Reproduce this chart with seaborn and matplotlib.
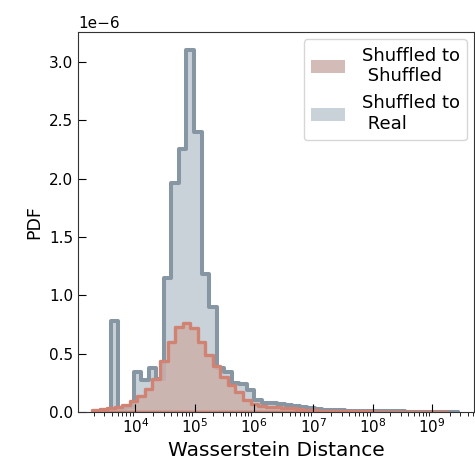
import numpy as np
import pandas as pd
import matplotlib
matplotlib.use("Agg")
import matplotlib.pyplot as plt
import seaborn as sns
from matplotlib.patches import Patch

# ---- data (PDF values in units of 1e-6) ----
# log10 start of the first bin edge for each series, common log10 bin width
real_log_start = 3.332
shuf_log_start = 3.268
log_bin_width = 0.1273

real_pdf_e6 = [0.01, 0.005, 0.78, 0.03, 0.04, 0.34, 0.27, 0.38, 0.28, 1.15,
               1.96, 2.25, 3.10, 2.40, 1.18, 0.90, 0.38, 0.34, 0.25, 0.24,
               0.19, 0.10, 0.08, 0.075, 0.065, 0.06, 0.05, 0.045, 0.035, 0.028,
               0.02, 0.016, 0.013, 0.011, 0.009, 0.008, 0.007, 0.006, 0.006, 0.005,
               0.005, 0.004, 0.004, 0.003, 0.003, 0.003, 0.002, 0.002]

shuf_pdf_e6 = [0.02, 0.025, 0.03, 0.04, 0.06, 0.09, 0.14, 0.20, 0.28, 0.44,
               0.60, 0.73, 0.76, 0.72, 0.60, 0.49, 0.39, 0.30, 0.23, 0.17,
               0.10, 0.07, 0.055, 0.045, 0.04, 0.035, 0.03, 0.025, 0.02, 0.016,
               0.012, 0.01, 0.008, 0.007, 0.006, 0.005, 0.005, 0.004, 0.004, 0.003,
               0.003, 0.003, 0.002, 0.002, 0.002, 0.002, 0.002]

labels = ["Shuffled to\n Shuffled", "Shuffled to\n Real"]
x_label = "Wasserstein Distance"
y_label = "PDF"


def to_frame(log_start, heights):
    n = len(heights)
    edges = 10 ** (log_start + log_bin_width * np.arange(n + 1))
    centers = np.sqrt(edges[:-1] * edges[1:])
    df = pd.DataFrame({"dist": centers, "pdf": np.asarray(heights) * 1e-6})
    return df, [float(e) for e in edges]


real_df, real_edges = to_frame(real_log_start, real_pdf_e6)
shuf_df, shuf_edges = to_frame(shuf_log_start, shuf_pdf_e6)

# ---- styling ----
real_edge = "#8796a3"
real_fill = "#c9d1d9"
shuf_edge = "#d08372"
shuf_fill = (0.80, 0.69, 0.67, 0.85)

fig = plt.figure(figsize=(4.75, 4.65), dpi=100)
ax = fig.add_axes([0.164, 0.114, 0.834, 0.817])

sns.histplot(data=real_df, x="dist", weights="pdf", bins=real_edges,
             stat="count", element="step", fill=True, ax=ax,
             facecolor=real_fill, edgecolor=real_edge, linewidth=2.9)
sns.histplot(data=shuf_df, x="dist", weights="pdf", bins=shuf_edges,
             stat="count", element="step", fill=True, ax=ax,
             facecolor=shuf_fill, edgecolor=shuf_edge, linewidth=2.4)

ax.set_xscale("log")
ax.set_xlim(10 ** 3.03, 10 ** 9.71)
ax.set_ylim(0, None)

ax.set_xlabel(x_label, fontsize=14.5)
ax.set_ylabel(y_label, fontsize=12.5)
ax.tick_params(which="major", direction="in", length=6, labelsize=11)
ax.tick_params(which="minor", direction="out", length=3)
ax.yaxis.get_offset_text().set_fontsize(11)
for s in ax.spines.values():
    s.set_color("#333333")

handles = [Patch(facecolor=shuf_fill, edgecolor="none"),
           Patch(facecolor=real_fill, edgecolor="none")]
ax.legend(handles, labels, loc="upper right", borderaxespad=0.4,
          fontsize=13, handlelength=1.9, handleheight=0.7,
          handletextpad=0.9)

fig.savefig("out.png", dpi=100)
